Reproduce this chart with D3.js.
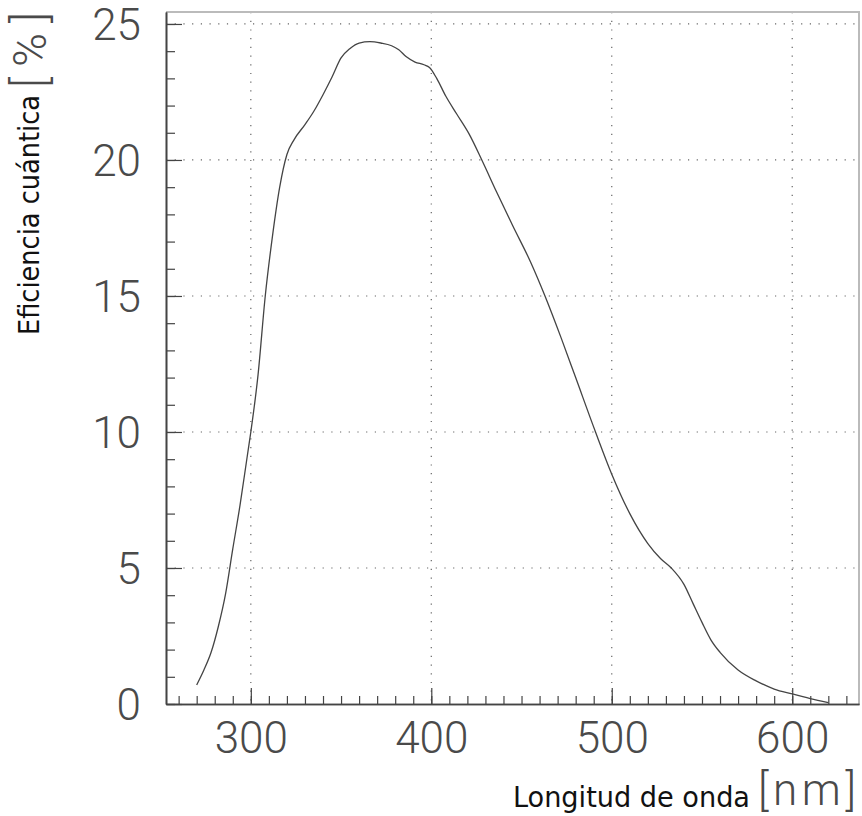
<!DOCTYPE html>
<html>
<head>
<meta charset="utf-8">
<script src="https://cdn.jsdelivr.net/npm/d3@7"></script>
<style>
  body { margin: 0; background: #fff; }
  svg { display: block; }
</style>
</head>
<body>
<div id="chart"></div>
<script>
  // wavelength [nm] and quantum efficiency [%]
  var wavelength = [270, 274, 278, 282, 286, 290, 294, 298, 300, 304, 308, 312, 316, 320,
    324, 330, 335, 340, 345, 350, 355, 360, 366, 372, 378, 382, 386, 391, 396, 399,
    403, 408, 414, 421, 428, 436, 445, 455, 463, 472, 480, 491, 500, 510, 520, 527,
    533, 540, 545, 550, 555, 560, 570, 580, 590, 600, 610, 620];
  var efficiency = [0.7, 1.25, 1.9, 2.85, 4.05, 5.7, 7.3, 9.1, 10.0, 12.1, 15.0, 17.2, 19.0, 20.2,
    20.75, 21.3, 21.8, 22.4, 23.05, 23.75, 24.1, 24.3, 24.35, 24.3, 24.2, 24.05, 23.8, 23.6, 23.5, 23.4,
    23.0, 22.35, 21.7, 20.95, 20.0, 18.85, 17.6, 16.25, 15.0, 13.45, 12.0, 10.0, 8.45, 7.0, 5.9, 5.35,
    5.0, 4.4, 3.7, 3.0, 2.35, 1.9, 1.25, 0.85, 0.55, 0.37, 0.2, 0.05];

  var xMajor = [300, 400, 500, 600];
  var xMinor = d3.range(260, 640, 10);
  var yMajor = [0, 5, 10, 15, 20, 25];
  var yMinor = d3.range(0, 26, 1);

  var W = 862, H = 816;
  var margin = {top: 12, right: 3, bottom: 112, left: 166};
  var w = W - margin.left - margin.right;
  var h = H - margin.top - margin.bottom;

  var svg = d3.select('#chart').append('svg')
      .attr('width', W)
      .attr('height', H);

  var g = svg.append('g')
      .attr('transform', 'translate(' + margin.left + ',' + margin.top + ')');

  var x = d3.scaleLinear().domain([253, 637]).range([0, w]);
  var y = d3.scaleLinear().domain([0, 25.44]).range([h, 0]);

  var labelFont = 'Roboto, "Open Sans", "Liberation Sans", sans-serif';
  var titleFont = '"DejaVu Sans Condensed", "DejaVu Sans", sans-serif';

  // dotted grid
  g.selectAll('.vgrid').data(xMajor).enter().append('line')
      .attr('x1', function(d) { return x(d); })
      .attr('x2', function(d) { return x(d); })
      .attr('y1', 0)
      .attr('y2', h)
      .attr('stroke', '#666')
      .attr('stroke-width', 1.2)
      .attr('stroke-dasharray', '1.2,7.5');

  g.selectAll('.hgrid').data(yMajor.filter(function(d) { return d > 0; })).enter().append('line')
      .attr('x1', 0)
      .attr('x2', w)
      .attr('y1', function(d) { return y(d); })
      .attr('y2', function(d) { return y(d); })
      .attr('stroke', '#666')
      .attr('stroke-width', 1.2)
      .attr('stroke-dasharray', '1.2,7.5');

  // top and right frame
  g.append('path')
      .attr('d', ['M', 0, 0, 'L', w, 0, 'L', w, h].join(' '))
      .attr('fill', 'none')
      .attr('stroke', '#bbb')
      .attr('stroke-width', 2);

  // minor ticks
  var xMinorAxis = d3.axisBottom(x).tickValues(xMinor).tickSize(-8).tickSizeOuter(0).tickFormat('');
  var yMinorAxis = d3.axisLeft(y).tickValues(yMinor).tickSize(-9).tickSizeOuter(0).tickFormat('');

  var xAxis = d3.axisBottom(x).tickValues(xMajor).tickSize(-16).tickSizeOuter(0);
  var yAxis = d3.axisLeft(y).tickValues(yMajor).tickSize(-16).tickSizeOuter(0);

  var gxm = g.append('g').attr('transform', 'translate(0,' + h + ')').call(xMinorAxis);
  var gym = g.append('g').call(yMinorAxis);
  var gx = g.append('g').attr('transform', 'translate(0,' + h + ')').call(xAxis);
  var gy = g.append('g').call(yAxis);

  [gxm, gym, gx, gy].forEach(function(a) {
    a.selectAll('path').attr('stroke', '#444').attr('stroke-width', 1.6);
    a.selectAll('line').attr('stroke', '#444').attr('stroke-width', 1.2);
  });

  gx.selectAll('text')
      .attr('y', 49)
      .attr('dy', null)
      .attr('fill', '#4a4a4a')
      .style('font-family', labelFont)
      .style('font-weight', 300)
      .style('font-size', '44px');

  gy.selectAll('text')
      .attr('x', -25)
      .attr('dy', '0.36em')
      .attr('fill', '#4a4a4a')
      .style('font-family', labelFont)
      .style('font-weight', 300)
      .style('font-size', '44px');

  // the curve
  var line = d3.line()
      .x(function(d, i) { return x(wavelength[i]); })
      .y(function(d) { return y(d); })
      .curve(d3.curveMonotoneX);

  g.append('path')
      .datum(efficiency)
      .attr('d', line)
      .attr('fill', 'none')
      .attr('stroke', '#444')
      .attr('stroke-width', 1.3);

  // axis titles
  svg.append('text')
      .attr('x', 513)
      .attr('y', 807)
      .attr('textLength', 237)
      .attr('lengthAdjust', 'spacingAndGlyphs')
      .style('font-family', titleFont)
      .style('font-size', '28px')
      .attr('fill', '#111')
      .text('Longitud de onda');

  svg.append('text')
      .attr('x', 758)
      .attr('y', 805)
      .attr('textLength', 98)
      .style('font-family', labelFont)
      .style('font-weight', 300)
      .style('font-size', '44px')
      .attr('fill', '#4a4a4a')
      .text('[nm]');

  svg.append('text')
      .attr('transform', 'translate(39,335) rotate(-90)')
      .attr('textLength', 240)
      .attr('lengthAdjust', 'spacingAndGlyphs')
      .style('font-family', titleFont)
      .style('font-size', '28px')
      .attr('fill', '#111')
      .text('Eficiencia cuántica');

  svg.append('text')
      .attr('transform', 'translate(46,88) rotate(-90)')
      .attr('textLength', 76)
      .style('font-family', labelFont)
      .style('font-weight', 300)
      .style('font-size', '46px')
      .attr('fill', '#4a4a4a')
      .text('[%]');
</script>
</body>
</html>
